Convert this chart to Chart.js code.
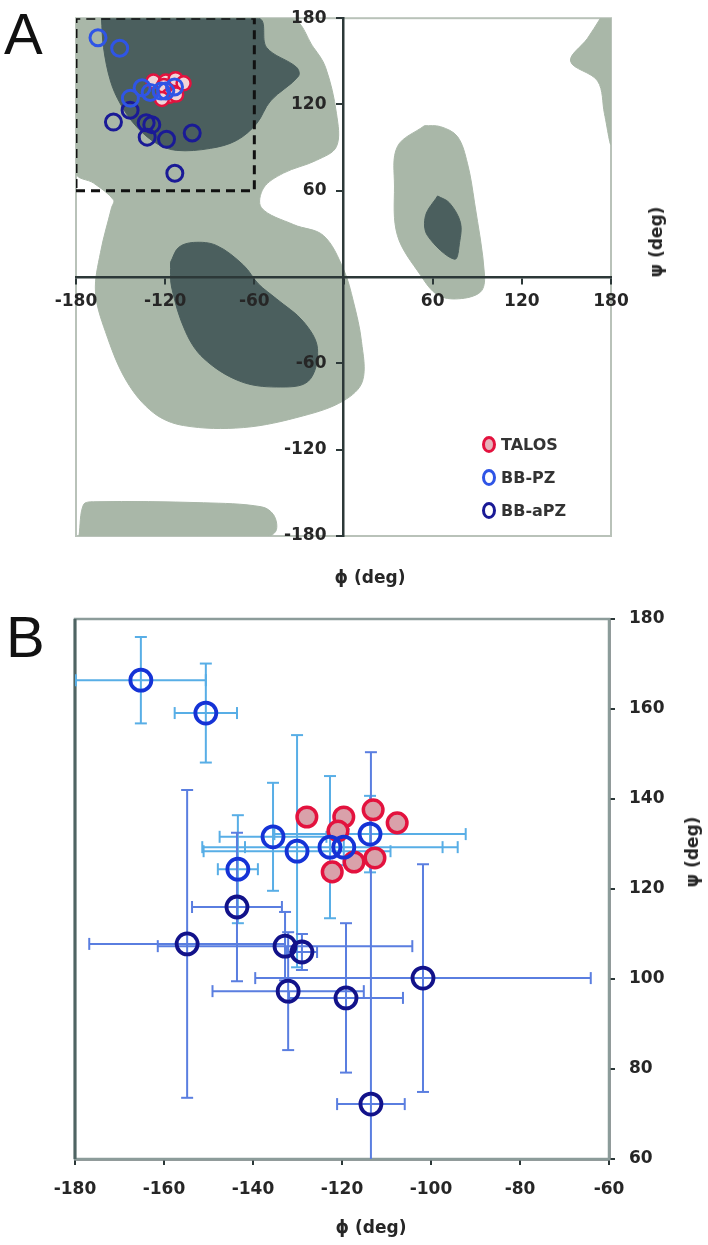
<!DOCTYPE html>
<html>
<head>
<meta charset="utf-8">
<script src="https://cdn.jsdelivr.net/npm/chart.js@4.4.0/dist/chart.umd.min.js"></script>
<style>
  body { margin: 0; width: 708px; height: 1245px; background: #fff; position: relative; overflow: hidden; font-family: "Liberation Sans", Arial, sans-serif; }
  .wrap { position: absolute; left: 0; width: 708px; }
  #wrapA { top: 0; height: 560px; }
  #wrapB { top: 560px; height: 685px; }
  .panel { position: absolute; font-size: 58px; line-height: 1; color: #111; }
  .lab { position: absolute; font-family: "DejaVu Sans", sans-serif; font-weight: bold; font-size: 17px; color: #262626; white-space: nowrap; transform: translate(-50%, -50%); }
  .rot { transform: translate(-50%, -50%) rotate(-90deg); }
  #legendA { position: absolute; left: 482px; top: 434px; font-family: "DejaVu Sans", sans-serif; font-weight: bold; font-size: 16px; color: #333; }
  #legendA div { height: 33px; line-height: 22px; }
  .mk { display: inline-block; width: 8px; height: 11px; border: 3px solid; border-radius: 50%; margin-right: 5px; vertical-align: -3px; }
</style>
</head>
<body>
<div class="wrap" id="wrapA"><canvas id="chartA" width="708" height="560"></canvas></div>
<div class="wrap" id="wrapB"><canvas id="chartB" width="708" height="685"></canvas></div>

<div class="panel" style="left:4px; top:5px;">A</div>
<div class="panel" style="left:6px; top:608px;">B</div>
<div class="lab" style="left:370px; top:577px;">ϕ (deg)</div>
<div class="lab rot" style="left:656px; top:242px;">ψ (deg)</div>
<div class="lab" style="left:371px; top:1227px;">ϕ (deg)</div>
<div class="lab rot" style="left:692px; top:852px;">ψ (deg)</div>
<div id="legendA">
  <div><span class="mk" style="border-color:#e3123e; background:#e6b3ba;"></span>TALOS</div>
  <div><span class="mk" style="border-color:#2f55e6;"></span>BB-PZ</div>
  <div><span class="mk" style="border-color:#1a1a96;"></span>BB-aPZ</div>
</div>

<script>
// TALOS predictions (phi, psi in degrees)
const talosPhi = [-127.9, -119.6, -120.9, -113.0, -107.6, -117.3, -112.6, -122.2];
const talosPsi = [136.0, 136.0, 132.9, 137.6, 134.7, 126.0, 126.9, 123.8];

// BB-PZ values with errors
const pzPhi = [-165.2, -150.6, -135.5, -130.1, -143.4, -122.7, -119.6, -113.7];
const pzPsi = [166.4, 159.1, 131.6, 128.4, 124.4, 129.3, 129.3, 132.2];
const pzPhiErr = [14.6, 7.0, 12.0, 21.0, 4.5, 28.7, 22.2, 21.5];
const pzPsiErr = [9.6, 11.0, 12.0, 25.8, 12.0, 15.8, 4.0, 8.5];

// BB-aPZ values with errors
const apzPhi = [-143.6, -154.8, -132.8, -129.0, -101.8, -132.1, -119.1, -113.5];
const apzPsi = [116.0, 107.8, 107.3, 106.0, 100.2, 97.3, 95.8, 72.2];
const apzPhiErr = [10.1, 22.0, 28.6, 3.4, 37.7, 17.0, 12.8, 7.6];
const apzPsiErr = [16.5, 34.2, 7.6, 4.0, 25.3, 13.1, 16.6, 78.2];

// Ramachandran contour outlines (phi, psi)
const lightMainPhi = [-180, -35.7, -20.2, -12.1, -4.7, -4.7, -18.2, -40.4, -53.8, -55.2, -33.6, -13.5, 0, 6.7, 12.1, 12.8, 0, -26.9, -67.3, -107.7, -127.9, -146, -160.2, -166.9, -163.5, -156.1, -154.8, -168.2, -180];
const lightMainPsi = [180, 180, 159.7, 145.9, 113.6, 90.8, 81.2, 72.3, 61.9, 48.2, 36.5, 28.9, 5.5, -17.2, -44.7, -72.3, -86, -96.4, -104.6, -103.2, -94.3, -72.3, -37.9, -10.3, 17.2, 48.2, 53.7, 65.4, 72.3];
const lightLowPhi = [-178, -175, -168.2, -94.2, -55.2, -47.1, -45.1, -50.5, -178];
const lightLowPsi = [-180, -158.3, -156.2, -156.9, -159.7, -165.2, -175.5, -180, -180];
const lightLeftPhi = [54.5, 36.3, 34.3, 36.3, 51.8, 63.3, 77.4, 92.2, 94.9, 88.2, 83.4, 76.7, 65.3];
const lightLeftPsi = [105.3, 90.8, 63.3, 28.9, 1.4, -12.4, -15.1, -10.3, 1.4, 51.6, 79.1, 97.7, 104.6];
const lightCornerPhi = [172.9, 164.2, 152.8, 171, 175.6, 180, 180];
const lightCornerPsi = [180, 166, 150, 136.3, 113.6, 92.9, 180];
const darkBetaPhi = [-162.9, -57.2, -51.8, -31.6, -30.3, -49.1, -58.5, -72, -89.5, -112.4, -125.8, -139.3, -150.1, -156.8, -161.5];
const darkBetaPsi = [180, 180, 159.7, 145.9, 139.7, 122.5, 106.7, 95, 89.5, 88.1, 92.9, 104.6, 120.4, 136.3, 159.7];
const darkAlphaPhi = [-116.4, -111, -100.9, -85.5, -67.3, -57.2, -45.1, -26.9, -17.5, -23.6, -45.1, -70, -94.2, -106.3, -115.7];
const darkAlphaPsi = [10.3, 20.6, 24.1, 22, 8.3, -4.8, -15.1, -31, -49.6, -72.3, -76.4, -72.3, -56.4, -37.9, -6.9];
const darkLeftPhi = [63.3, 55.2, 56.5, 74.7, 78.1, 78.7, 71.3];
const darkLeftPsi = [56.4, 42.7, 28.9, 12.4, 24.1, 37.9, 51.6];

// Region shown enlarged in panel B
const boxPhi = [-180, -60, -60, -180, -180];
const boxPsi = [60, 60, 180, 180, 60];

const zip = (xs, ys) => xs.map((x, i) => ({ x: x, y: ys[i] }));

function region(phi, psi, color, order) {
    const pts = zip(phi, psi);
    pts.push(pts[0]);
    return {
        data: pts, showLine: true, fill: 'shape', tension: 0.35,
        backgroundColor: color, borderColor: color, borderWidth: 1,
        pointRadius: 0, order: order
    };
}

function xBars(phi, psi, err) {
    const pts = [];
    phi.forEach((p, i) => {
        pts.push({ x: p - err[i], y: psi[i] }, { x: p + err[i], y: psi[i] }, { x: NaN, y: NaN });
    });
    return pts;
}

function yBars(phi, psi, err) {
    const pts = [];
    phi.forEach((p, i) => {
        pts.push({ x: p, y: psi[i] - err[i] }, { x: p, y: psi[i] + err[i] }, { x: NaN, y: NaN });
    });
    return pts;
}

function bars(pts, color, rot) {
    return {
        data: pts, showLine: true, borderColor: color, borderWidth: 2,
        pointStyle: 'line', pointRadius: 6, pointRotation: rot,
        pointBorderColor: color, pointBorderWidth: 2, order: 5
    };
}

function markers(phi, psi, ring, fill, r, w, order) {
    return {
        data: zip(phi, psi), pointRadius: r, pointBorderWidth: w,
        pointBorderColor: ring, pointBackgroundColor: fill, order: order
    };
}

const tickFont = { family: 'DejaVu Sans', size: 17, weight: 'bold' };
const axisColor = '#2c3838';

// gray frame round the plot area
const framePlugin = {
    id: 'frame',
    beforeDatasetsDraw(chart, args, opts) {
        const { ctx, chartArea: a } = chart;
        ctx.save();
        ctx.lineWidth = opts.width;
        ctx.strokeStyle = opts.color;
        ctx.strokeRect(a.left, a.top, a.right - a.left, a.bottom - a.top);
        if (opts.leftColor) {
            ctx.strokeStyle = opts.leftColor;
            ctx.lineWidth = opts.leftWidth;
            ctx.beginPath();
            ctx.moveTo(a.left, a.top);
            ctx.lineTo(a.left, a.bottom);
            ctx.stroke();
        }
        ctx.restore();
    }
};

document.addEventListener("DOMContentLoaded", function() {
    const light = '#a9b7a8';
    const dark = '#4b5f5e';

    // Panel A: Ramachandran map
    new Chart(document.getElementById('chartA'), {
        type: 'scatter',
        data: {
            datasets: [
                markers(pzPhi, pzPsi, '#2f55e6', 'rgba(0,0,0,0)', 8, 3, 0),
                markers(talosPhi, talosPsi, '#e3123e', '#f1d4d8', 7, 2.5, 1),
                markers(apzPhi, apzPsi, '#1a1a96', 'rgba(0,0,0,0)', 8, 3, 0),
                {
                    data: zip(boxPhi, boxPsi), showLine: true, borderColor: '#111',
                    borderWidth: 3, borderDash: [9, 6], pointRadius: 0, order: 2
                },
                region(darkBetaPhi, darkBetaPsi, dark, 3),
                region(darkAlphaPhi, darkAlphaPsi, dark, 3),
                region(darkLeftPhi, darkLeftPsi, dark, 3),
                region(lightMainPhi, lightMainPsi, light, 4),
                region(lightLowPhi, lightLowPsi, light, 4),
                region(lightLeftPhi, lightLeftPsi, light, 4),
                region(lightCornerPhi, lightCornerPsi, light, 4)
            ]
        },
        options: {
            responsive: false,
            animation: false,
            events: [],
            layout: { padding: { left: 76, top: 13, right: 97, bottom: 24 } },
            plugins: {
                legend: { display: false },
                tooltip: { enabled: false },
                frame: { color: '#b9c2b9', width: 2 }
            },
            scales: {
                x: {
                    type: 'linear', min: -180, max: 180, position: { y: 0 },
                    afterFit: s => { s.height = 0; },
                    ticks: { stepSize: 60, font: tickFont, color: '#262626', padding: 8, maxRotation: 0,
                        autoSkip: false, z: 1, callback: v => v === 0 ? '' : v },
                    grid: { drawOnChartArea: false, tickLength: 6, color: axisColor, lineWidth: 2, z: 1 },
                    border: { color: axisColor, width: 2.5, z: 1 }
                },
                y: {
                    type: 'linear', min: -180, max: 180, position: { x: 0 },
                    afterFit: s => { s.width = 0; },
                    ticks: { stepSize: 60, font: tickFont, color: '#262626', padding: 8,
                        autoSkip: false, z: 1, callback: v => v === 0 ? '' : v + '\u2003' },
                    grid: { drawOnChartArea: false, tickLength: 6, color: axisColor, lineWidth: 2, z: 1 },
                    border: { color: axisColor, width: 2.5, z: 1 }
                }
            }
        },
        plugins: [framePlugin]
    });

    // Panel B: close-up with error bars
    new Chart(document.getElementById('chartB'), {
        type: 'scatter',
        data: {
            datasets: [
                markers(pzPhi, pzPsi, '#1533d6', 'rgba(0,0,0,0)', 10.5, 3.8, 0),
                markers(apzPhi, apzPsi, '#12128a', 'rgba(0,0,0,0)', 10.5, 3.8, 0),
                markers(talosPhi, talosPsi, '#e3123e', '#d9a1aa', 9.8, 3.5, 1),
                bars(xBars(apzPhi, apzPsi, apzPhiErr), '#5a7ee0', 90),
                bars(yBars(apzPhi, apzPsi, apzPsiErr), '#5a7ee0', 0),
                bars(xBars(pzPhi, pzPsi, pzPhiErr), '#58aee6', 90),
                bars(yBars(pzPhi, pzPsi, pzPsiErr), '#58aee6', 0)
            ]
        },
        options: {
            responsive: false,
            animation: false,
            events: [],
            layout: { padding: { left: 75, top: 59, right: 0, bottom: 0 } },
            plugins: {
                legend: { display: false },
                tooltip: { enabled: false },
                frame: { color: '#8c9c9a', width: 2.5, leftColor: '#4f6463', leftWidth: 3 }
            },
            scales: {
                x: {
                    type: 'linear', min: -180, max: -60, position: 'bottom',
                    afterFit: s => { s.height = 86; },
                    ticks: { stepSize: 20, font: tickFont, color: '#262626', padding: 14, maxRotation: 0, autoSkip: false },
                    grid: { drawOnChartArea: false, tickLength: 6, color: axisColor, lineWidth: 2 },
                    border: { color: axisColor, width: 2.5 }
                },
                y: {
                    type: 'linear', min: 60, max: 180, position: 'right',
                    afterFit: s => { s.width = 99; },
                    ticks: { stepSize: 20, font: tickFont, color: '#262626', padding: 14, autoSkip: false },
                    grid: { drawOnChartArea: false, tickLength: 6, color: axisColor, lineWidth: 2 },
                    border: { color: axisColor, width: 2.5 }
                }
            }
        },
        plugins: [framePlugin]
    });
});
</script>
</body>
</html>
